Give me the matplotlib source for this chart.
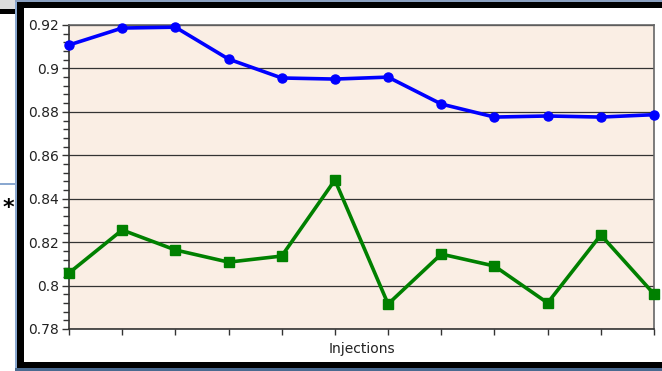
import numpy as np
import matplotlib
matplotlib.use('Agg')
import matplotlib.pyplot as plt
from matplotlib.patches import Rectangle

# values
injections = np.arange(12)
blue_vals = [0.9108, 0.9186, 0.9190, 0.9043, 0.8956, 0.8951,
             0.8960, 0.8836, 0.8776, 0.8781, 0.8776, 0.8787]
green_vals = [0.8058, 0.8256, 0.8164, 0.8108, 0.8136, 0.8486,
              0.7915, 0.8145, 0.8090, 0.7920, 0.8233, 0.7961]
ytick_vals = [0.78, 0.80, 0.82, 0.84, 0.86, 0.88, 0.90, 0.92]
ytick_labels = ['0.78', '0.8', '0.82', '0.84', '0.86', '0.88', '0.9', '0.92']
yminor_vals = [0.78 + 0.004*i for i in range(36)]

W, H = 662, 371
fig = plt.figure(figsize=(W/100, H/100), dpi=100)
fig.patch.set_facecolor('white')

def px_rect(x0, y0, x1, y1, color):
    # rectangle in image pixel coords (y from top)
    fig.patches.append(Rectangle((x0/W, 1-y1/H), (x1-x0)/W, (y1-y0)/H,
                                 transform=fig.transFigure, color=color,
                                 zorder=0, lw=0))

# window frame pieces around the chart
px_rect(0, 0, 15, 9, '#dcdcdc')
px_rect(0, 9, 15, 14, 'black')
px_rect(0, 183, 15, 185, '#8aa8d0')
px_rect(15, 0, 662, 2, '#8aa0c0')
px_rect(15, 2, 17, 368, '#8aa8d0')
px_rect(17, 2, 662, 8, 'black')
px_rect(17, 2, 24, 368, 'black')
px_rect(17, 362, 662, 368, 'black')
px_rect(15, 368, 662, 371, '#4a6a90')
fig.text(8/W, 1-208/H, '*', fontsize=16, fontweight='bold', ha='center', va='center')

ax = fig.add_axes([69/W, (H-329)/H, (654-69)/W, (329-25)/H])
ax.set_facecolor('#faeee4')
ax.plot(injections, blue_vals, color='#0000ff', lw=2.6, marker='o', ms=6.5, zorder=3, clip_on=False)
ax.plot(injections, green_vals, color='#008000', lw=2.6, marker='s', ms=6.5, zorder=3, clip_on=False)

ax.set_xlim(0, 11)
ax.set_ylim(ytick_vals[0], ytick_vals[-1])
ax.set_xticks(injections)
ax.set_xticklabels([])
ax.set_yticks(ytick_vals, ytick_labels)
ax.set_yticks(yminor_vals, minor=True)
ax.grid(axis='y', which='major', color='#333333', lw=0.9)
ax.tick_params(axis='y', which='major', length=5, width=1, color='#333333', labelsize=10, pad=2, labelcolor='#222222')
ax.tick_params(axis='y', which='minor', length=4, width=1, color='#333333')
ax.tick_params(axis='x', length=4, width=1, color='#333333')
for s in ax.spines.values():
    s.set_color('#666666')
    s.set_linewidth(1.2)
ax.spines['left'].set_color('#333333')
ax.spines['bottom'].set_color('#333333')
ax.set_xlabel('Injections', fontsize=10, color='#222222', labelpad=2)

fig.savefig('out.png', dpi=100)
